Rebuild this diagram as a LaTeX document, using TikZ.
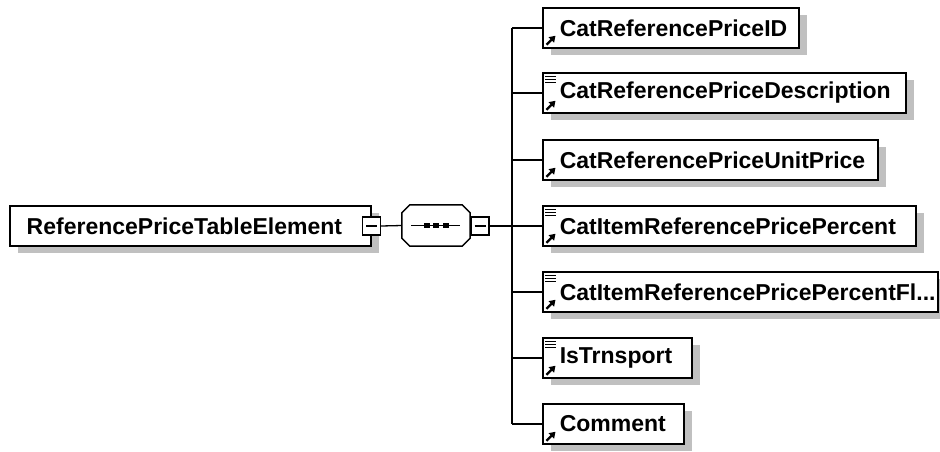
\documentclass[tikz,border=0pt]{standalone}
\usepackage{fontspec}
\setmainfont{Liberation Sans}
\usetikzlibrary{shadows,arrows.meta}
\definecolor{shadowgray}{RGB}{192,192,192}
\begin{document}
\begin{tikzpicture}[x=1pt,y=-1pt,
  boxshadow/.style={general shadow={fill=shadowgray, shadow xshift=8pt, shadow yshift=-7pt}},
  elem/.style={draw, line width=1.5pt, fill=white, rectangle, minimum height=40pt,
    inner xsep=17pt, inner ysep=0pt, anchor=west,
    font=\fontsize{23}{27}\selectfont\bfseries, boxshadow},
  minbox/.style={draw, fill=white, line width=1.2pt, minimum size=18pt, inner sep=0pt,
    path picture={\draw[line width=1.2pt] ([xshift=3.5pt]path picture bounding box.west) -- ([xshift=-3.5pt]path picture bounding box.east);}},
  seqarea/.style={rectangle, minimum width=68pt, minimum height=41pt, inner sep=0pt},
  conn/.style={line width=1.3pt},
  refarrow/.style={line width=2.4pt, -{Triangle[length=6pt,width=7.5pt]}},
  docline/.style={line width=0.9pt},
]
\useasboundingbox (0,0) rectangle (940,451);

% root element
\node[elem] (root) at (9,226) {\makebox[327pt][l]{ReferencePriceTableElement}};
\node[minbox] (rootminus) at (root.east) {};

% sequence compositor (octagon)
\node[seqarea] (seq) at (436,225.5) {};
\def\octpath{([xshift=8pt]seq.north west) -- ([xshift=-8pt]seq.north east) -- ([yshift=-8pt]seq.north east) -- ([yshift=8pt]seq.south east) -- ([xshift=-8pt]seq.south east) -- ([xshift=8pt]seq.south west) -- ([yshift=8pt]seq.south west) -- ([yshift=-8pt]seq.north west) -- cycle}
\begin{scope}[xshift=8pt,yshift=-7pt]
  \fill[shadowgray] \octpath;
\end{scope}
\filldraw[fill=white, line width=1.5pt] \octpath;
\draw[line width=1.3pt] ([xshift=-25pt]seq.center) -- ([xshift=24pt]seq.center);
\foreach \dx in {-9,0,10}{
  \fill ([xshift=\dx pt]seq.center) +(-2.7,-2.7) rectangle +(2.7,2.7);
}
\node[minbox] (seqminus) at (480,226) {};

\draw[conn] (rootminus.east) -- (seq.west);

% bus
\coordinate (bustop) at (512,28);
\coordinate (busbot) at (512,424);
\coordinate (busmid) at (512,226);
\draw[conn] (bustop) -- (busbot);
\draw[conn] (seqminus.east) -- (busmid);

% children
\node[elem] (c1) at (542,28)  {\makebox[222pt][l]{CatReferencePriceID}};
\node[elem] (c2) at (542,93)  {\makebox[329pt][l]{CatReferencePriceDescription}};
\node[elem] (c3) at (542,160) {\makebox[301pt][l]{CatReferencePriceUnitPrice}};
\node[elem] (c4) at (542,226) {\makebox[339pt][l]{CatItemReferencePricePercent}};
\node[elem] (c5) at (542,292) {\makebox[361pt][l]{CatItemReferencePricePercentFl...}};
\node[elem] (c6) at (542,358) {\makebox[115pt][l]{IsTrnsport}};
\node[elem] (c7) at (542,424) {\makebox[107pt][l]{Comment}};

\foreach \c in {c1,c2,c3,c4,c5,c6,c7}{
  \draw[conn] (\c.west -| bustop) -- (\c.west);
  \draw[refarrow] ([shift={(4.5,-4)}]\c.south west) -- ([shift={(13.5,-13)}]\c.south west);
}
\foreach \c in {c2,c4,c5,c6}{
  \foreach \dy in {4,7,10}{
    \draw[docline] ([shift={(3,\dy)}]\c.north west) -- ([shift={(14,\dy)}]\c.north west);
  }
}
\end{tikzpicture}
\end{document}
